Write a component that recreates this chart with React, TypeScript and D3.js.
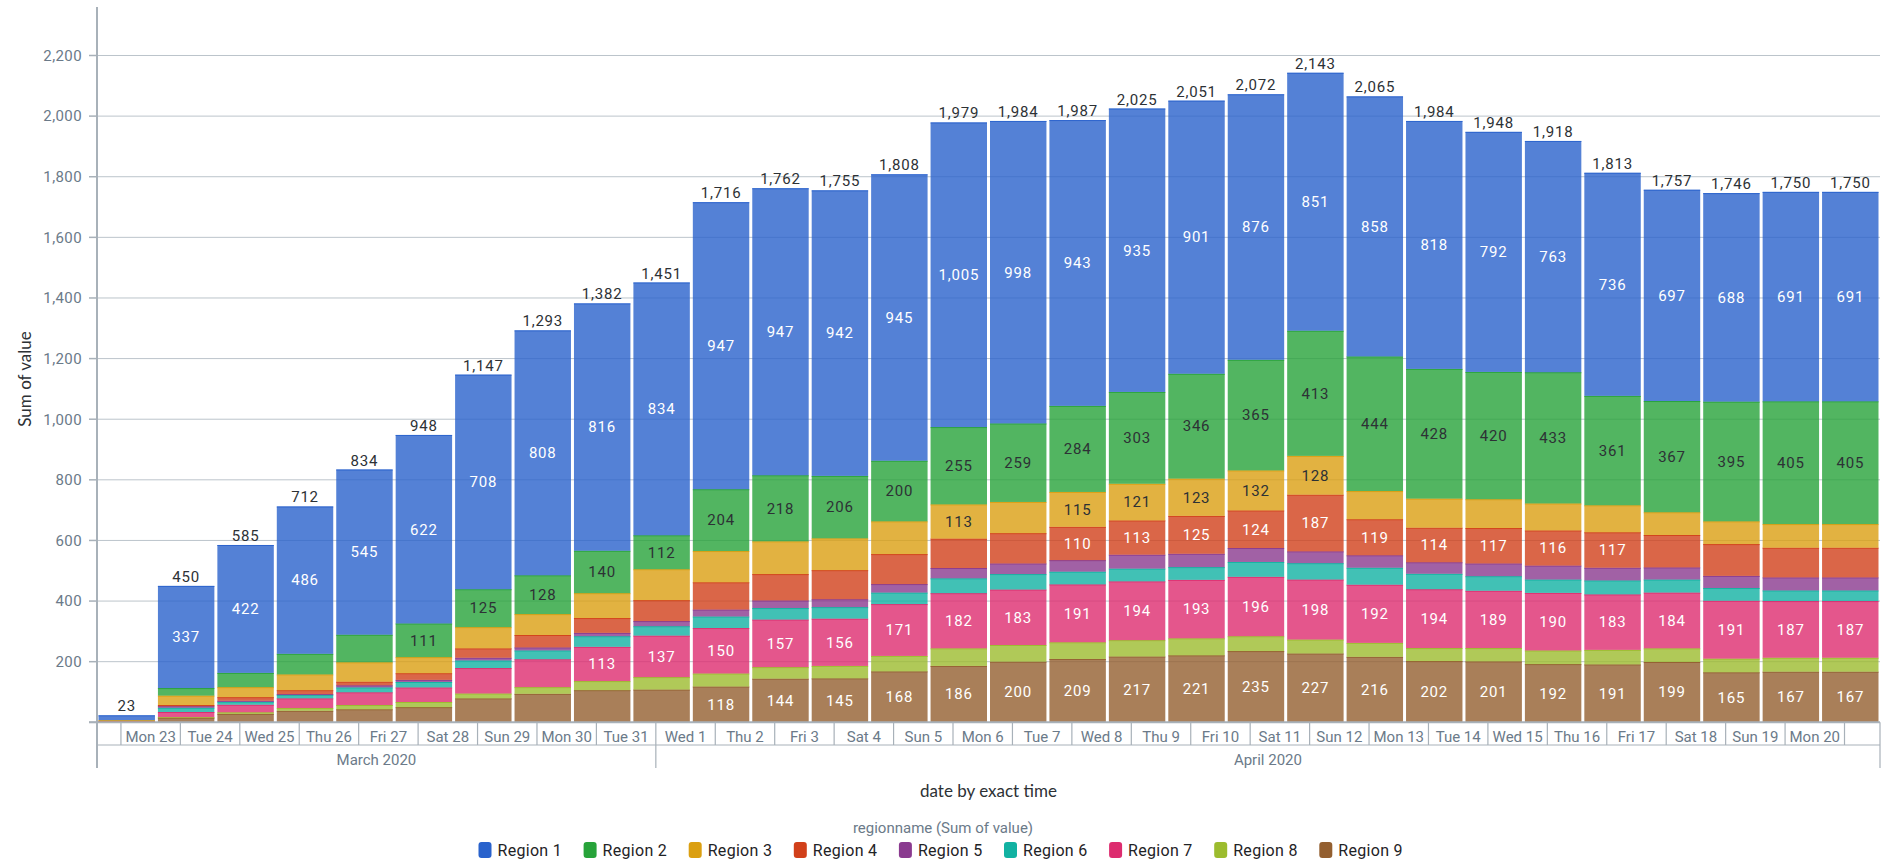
import React, { useRef, useEffect } from "react";
import * as d3 from "d3";

const dates = [
  "2020-03-23", "2020-03-24", "2020-03-25", "2020-03-26", "2020-03-27", "2020-03-28",
  "2020-03-29", "2020-03-30", "2020-03-31", "2020-04-01", "2020-04-02", "2020-04-03",
  "2020-04-04", "2020-04-05", "2020-04-06", "2020-04-07", "2020-04-08", "2020-04-09",
  "2020-04-10", "2020-04-11", "2020-04-12", "2020-04-13", "2020-04-14", "2020-04-15",
  "2020-04-16", "2020-04-17", "2020-04-18", "2020-04-19", "2020-04-20", "2020-04-21",
];

const region1 = [16, 337, 422, 486, 545, 622, 708, 808, 816, 834, 947, 947, 942, 945, 1005, 998, 943, 935, 901, 876, 851, 858, 818, 792, 763, 736, 697, 688, 691, 691];
const region2 = [0, 25, 47, 68, 91, 111, 125, 128, 140, 112, 204, 218, 206, 200, 255, 259, 284, 303, 346, 365, 413, 444, 428, 420, 433, 361, 367, 395, 405, 405];
const region3 = [3, 31, 33, 52, 64, 53, 70, 69, 82, 102, 103, 108, 105, 108, 113, 103, 115, 121, 123, 132, 128, 93, 96, 95, 89, 89, 75, 75, 78, 78];
const region4 = [1, 4, 12, 13, 12, 22, 31, 41, 49, 69, 90, 87, 96, 99, 97, 100, 110, 113, 125, 124, 187, 119, 114, 117, 116, 117, 107, 105, 98, 98];
const region5 = [0, 5, 3, 2, 7, 7, 9, 10, 11, 17, 23, 25, 26, 28, 34, 35, 38, 46, 44, 46, 39, 41, 38, 42, 46, 42, 40, 40, 43, 43];
const region6 = [0, 14, 10, 12, 16, 18, 25, 29, 35, 31, 38, 38, 38, 38, 49, 51, 42, 42, 42, 49, 54, 56, 51, 48, 44, 46, 43, 42, 35, 35];
const region7 = [1, 17, 25, 32, 42, 48, 84, 92, 113, 137, 150, 157, 156, 171, 182, 183, 191, 194, 193, 196, 198, 192, 194, 189, 190, 183, 184, 191, 187, 187];
const region8 = [0, 2, 5, 9, 14, 17, 16, 22, 30, 41, 43, 38, 41, 51, 58, 55, 55, 54, 56, 49, 46, 46, 43, 44, 45, 48, 45, 45, 46, 46];
const region9 = [2, 15, 28, 38, 43, 50, 79, 94, 106, 108, 118, 144, 145, 168, 186, 200, 209, 217, 221, 235, 227, 216, 202, 201, 192, 191, 199, 165, 167, 167];

const regionNames = ["Region 1", "Region 2", "Region 3", "Region 4", "Region 5", "Region 6", "Region 7", "Region 8", "Region 9"];
const regionColors = ["#2962cc", "#27a33a", "#db9f11", "#d1401a", "#8a3a8f", "#12b2a2", "#dd2c6f", "#9cbc2e", "#935f30"];
const labelColors = ["#fff", "#2d3135", "#2d3135", "#fff", "#fff", "#2d3135", "#fff", "#2d3135", "#fff"];

const yTicks = [0, 200, 400, 600, 800, 1000, 1200, 1400, 1600, 1800, 2000, 2200];

const App = () => {
  const node: any = useRef();

  useEffect(() => {
    document.body.style.margin = "0";
    const width = 1886,
      height = 863;
    const left = 97,
      right = 1880,
      top = 7,
      bottom = 722.3;
    const numFont = "Roboto, sans-serif";
    const titleFont = "Lato, sans-serif";
    const gray = "#6b7a89";
    const axisColor = "#a8b1b9";

    const svg = d3.select(node.current).attr("width", width).attr("height", height);
    svg.selectAll("*").remove();

    const series = [region1, region2, region3, region4, region5, region6, region7, region8, region9];
    const parse = d3.utcParse("%Y-%m-%d");
    const days = dates.map((d) => parse(d) as Date);
    // bars sit a little after midnight (timezone offset in the source)
    const shift = 140 * 60 * 1000;
    const halfDay = 12 * 3600 * 1000;
    const x = d3
      .scaleUtc()
      .domain([
        new Date(days[0].getTime() + shift - halfDay),
        new Date(days[days.length - 1].getTime() + shift + halfDay),
      ])
      .range([left, right]);
    const y = d3.scaleLinear().domain([0, 2360]).range([bottom, top]);
    const band = x(d3.utcDay.offset(days[0], 1)) - x(days[0]);

    const rows = dates.map((d, i) => {
      const r: any = { date: days[i] };
      regionNames.forEach((n, k) => (r[n] = series[k][i]));
      return r;
    });
    const keys = regionNames.slice().reverse();
    const stacked = d3.stack().keys(keys)(rows);

    // gridlines
    svg
      .append("g")
      .selectAll("line")
      .data(yTicks.filter((t) => t > 0))
      .enter()
      .append("line")
      .attr("x1", left)
      .attr("x2", right)
      .attr("y1", (t) => y(t))
      .attr("y2", (t) => y(t))
      .attr("stroke", "#bcc4cb")
      .attr("stroke-width", 1);

    // bars
    const cx = (d: any) => x(new Date(d.data.date.getTime() + shift));
    const layers = svg
      .append("g")
      .selectAll("g")
      .data(stacked)
      .enter()
      .append("g")
      .attr("fill", (s: any) => regionColors[regionNames.indexOf(s.key)]);
    layers
      .selectAll("rect")
      .data((s: any) => s)
      .enter()
      .append("rect")
      .attr("x", (d: any) => cx(d) - band / 2 + 1.5)
      .attr("width", band - 3)
      .attr("y", (d: any) => y(d[1]))
      .attr("height", (d: any) => y(d[0]) - y(d[1]))
      .attr("fill-opacity", 0.8);
    layers
      .selectAll("line")
      .data((s: any) => s.filter((d: any) => d[1] - d[0] > 0))
      .enter()
      .append("line")
      .attr("x1", (d: any) => cx(d) - band / 2 + 1.5)
      .attr("x2", (d: any) => cx(d) + band / 2 - 1.5)
      .attr("y1", (d: any) => y(d[1]) + 0.5)
      .attr("y2", (d: any) => y(d[1]) + 0.5)
      .attr("stroke", (d: any, i: number, n: any) => d3.select(n[i].parentNode).attr("fill"))
      .attr("stroke-opacity", 0.9);

    // labels inside segments
    stacked.forEach((s: any) => {
      const k = regionNames.indexOf(s.key);
      svg
        .append("g")
        .selectAll("text")
        .data(s.filter((d: any) => y(d[0]) - y(d[1]) >= 33))
        .enter()
        .append("text")
        .attr("x", (d: any) => cx(d))
        .attr("y", (d: any) => (y(d[0]) + y(d[1])) / 2 + 5.3)
        .attr("text-anchor", "middle")
        .attr("font-family", numFont)
        .attr("font-size", 15)
        .attr("letter-spacing", 0.8)
        .attr("fill", labelColors[k])
        .text((d: any) => d3.format(",")(d[1] - d[0]));
    });

    // totals
    const totals = rows.map((r: any) => d3.sum(regionNames, (n) => r[n]));
    svg
      .append("g")
      .selectAll("text")
      .data(rows)
      .enter()
      .append("text")
      .attr("x", (r: any) => x(new Date(r.date.getTime() + shift)))
      .attr("y", (r: any, i: number) => y(totals[i]) - 4)
      .attr("text-anchor", "middle")
      .attr("font-family", numFont)
      .attr("font-size", 15)
      .attr("letter-spacing", 0.8)
      .attr("fill", "#2d3135")
      .text((r: any, i: number) => d3.format(",")(totals[i]));

    // Y axis
    const yAxis = svg.append("g");
    yAxis
      .append("line")
      .attr("x1", left)
      .attr("x2", left)
      .attr("y1", top)
      .attr("y2", 768)
      .attr("stroke", axisColor)
      .attr("stroke-width", 2);
    yAxis
      .selectAll("line.tick")
      .data(yTicks)
      .enter()
      .append("line")
      .attr("class", "tick")
      .attr("x1", left - 8)
      .attr("x2", left)
      .attr("y1", (t) => y(t))
      .attr("y2", (t) => y(t))
      .attr("stroke", axisColor)
      .attr("stroke-width", 1.5);
    yAxis
      .selectAll("text")
      .data(yTicks.filter((t) => t > 0))
      .enter()
      .append("text")
      .attr("x", 82)
      .attr("y", (t) => y(t) + 5.3)
      .attr("text-anchor", "end")
      .attr("font-family", numFont)
      .attr("font-size", 15)
      .attr("letter-spacing", 0.4)
      .attr("fill", gray)
      .text((t) => d3.format(",")(t));
    svg
      .append("text")
      .attr("transform", "translate(24,379)rotate(-90)")
      .attr("text-anchor", "middle")
      .attr("dominant-baseline", "central")
      .attr("font-family", titleFont)
      .attr("font-size", 17)
      .attr("fill", "#2d3135")
      .text("Sum of value");

    // X axis: day row and month row
    const xAxis = svg.append("g");
    xAxis
      .append("line")
      .attr("x1", left - 8)
      .attr("x2", right)
      .attr("y1", bottom)
      .attr("y2", bottom)
      .attr("stroke", axisColor)
      .attr("stroke-width", 2);
    xAxis
      .append("line")
      .attr("x1", left)
      .attr("x2", right)
      .attr("y1", 745)
      .attr("y2", 745)
      .attr("stroke", axisColor)
      .attr("stroke-width", 1);
    const [d0, d1] = x.domain();
    const midnights = d3.utcDay.range(d3.utcDay.ceil(d0), d1);
    const months = d3.utcMonth.range(d3.utcMonth.ceil(d0), d1);
    xAxis
      .selectAll("line.day")
      .data(midnights)
      .enter()
      .append("line")
      .attr("class", "day")
      .attr("x1", (d) => x(d))
      .attr("x2", (d) => x(d))
      .attr("y1", bottom)
      .attr("y2", (d) => (d.getUTCDate() === 1 ? 768 : 745))
      .attr("stroke", axisColor)
      .attr("stroke-width", 1.2);
    xAxis
      .append("line")
      .attr("x1", right)
      .attr("x2", right)
      .attr("y1", bottom)
      .attr("y2", 768)
      .attr("stroke", axisColor)
      .attr("stroke-width", 1.2);
    xAxis
      .selectAll("text.day")
      .data(midnights.filter((d) => d3.utcDay.offset(d, 1) <= d1))
      .enter()
      .append("text")
      .attr("class", "day")
      .attr("x", (d) => (x(d) + x(d3.utcDay.offset(d, 1))) / 2)
      .attr("y", 742)
      .attr("text-anchor", "middle")
      .attr("font-family", numFont)
      .attr("font-size", 15)
      .attr("fill", gray)
      .text((d) => d3.utcFormat("%a %-d")(d));
    const monthStarts = [d0, ...months];
    xAxis
      .selectAll("text.month")
      .data(monthStarts)
      .enter()
      .append("text")
      .attr("class", "month")
      .attr("x", (d, i) => (x(d) + (i + 1 < monthStarts.length ? x(monthStarts[i + 1]) : right)) / 2)
      .attr("y", 765)
      .attr("text-anchor", "middle")
      .attr("font-family", numFont)
      .attr("font-size", 15)
      .attr("fill", gray)
      .text((d) => d3.utcFormat("%B %Y")(d));
    svg
      .append("text")
      .attr("x", (left + right) / 2)
      .attr("y", 790)
      .attr("text-anchor", "middle")
      .attr("dominant-baseline", "central")
      .attr("font-family", titleFont)
      .attr("font-size", 17)
      .attr("fill", "#2d3135")
      .text("date by exact time");

    // legend
    svg
      .append("text")
      .attr("x", width / 2)
      .attr("y", 828)
      .attr("text-anchor", "middle")
      .attr("dominant-baseline", "central")
      .attr("font-family", numFont)
      .attr("font-size", 15)
      .attr("fill", gray)
      .text("regionname (Sum of value)");
    const legend = svg
      .append("g")
      .selectAll("g")
      .data(regionNames)
      .enter()
      .append("g")
      .attr("transform", (n, i) => "translate(" + (478.5 + i * 105.1) + ",850)");
    legend
      .append("rect")
      .attr("x", 0)
      .attr("y", -8)
      .attr("width", 13)
      .attr("height", 16)
      .attr("rx", 3)
      .attr("fill", (n, i) => regionColors[i]);
    legend
      .append("text")
      .attr("x", 19)
      .attr("y", 0)
      .attr("dominant-baseline", "central")
      .attr("font-family", numFont)
      .attr("font-size", 16)
      .attr("letter-spacing", 0.3)
      .attr("fill", "#1f2326")
      .text((n) => n);
  }, []);

  return (
    <div>
      <svg ref={node} style={{ display: "block" }}></svg>
    </div>
  );
};

export default App;
